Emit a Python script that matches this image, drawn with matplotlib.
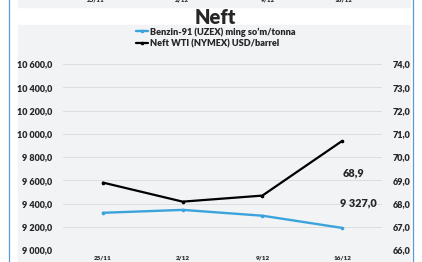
import matplotlib.pyplot as plt
from matplotlib.patches import Rectangle
from matplotlib.lines import Line2D

plt.rcParams['font.family'] = ['Lato', 'DejaVu Sans']
plt.rcParams['font.weight'] = 'heavy'

# data
dates = ['25/11', '2/12', '9/12', '16/12']
benzin = [9320, 9345, 9295, 9190]      # ming so'm/tonna, left axis
wti = [68.9, 68.08, 68.34, 70.69]      # USD/barrel, right axis
benzin_label = '9 327,0'
wti_label = '68,9'
left_ticks = list(range(9000, 10601, 200))
right_ticks = list(range(66, 75))

W, H = 422, 262
fig = plt.figure(figsize=(W / 100, H / 100), dpi=100)
fig.patch.set_facecolor('white')

bg = '#f2f3f5'
txt = '#262626'

# strip of the chart above, and the panel background
fig.patches.append(Rectangle((18 / W, 1 - 7 / H), 392 / W, 7 / H,
                             transform=fig.transFigure, color=bg, zorder=-5))
fig.patches.append(Rectangle((18 / W, 0), 392 / W, (H - 25) / H,
                             transform=fig.transFigure, color=bg, zorder=-5))
for xb in (8.5, 412.5):
    fig.add_artist(Line2D([xb / W, xb / W], [0, 1], color='#5b9bd5', lw=0.9,
                          transform=fig.transFigure))
for xp, d in zip([96, 182, 268, 344], dates):
    fig.text(xp / W, 1 - 3 / H, d, ha='center', va='bottom', fontsize=4.5,
             color=txt)

ax = fig.add_axes([63 / W, (H - 250) / H, 319 / W, 186 / H])
ax.set_facecolor('none')
ax2 = ax.twinx()

x = list(range(len(dates)))
lb, = ax.plot(x, benzin, color='#3ba3dc', lw=1.7, marker='o', ms=1.6,
              solid_capstyle='round', solid_joinstyle='round', zorder=3)
lw_, = ax2.plot(x, wti, color='black', lw=1.6, marker='o', ms=1.6,
                solid_capstyle='round', solid_joinstyle='round', zorder=3)

ax.set_ylim(9000, 10600)
ax.set_yticks(left_ticks)
ax.set_yticklabels([f'{v:,.1f}'.replace(',', ' ').replace('.', ',')
                    for v in left_ticks])
ax2.set_ylim(66, 74)
ax2.set_yticks(right_ticks)
ax2.set_yticklabels([f'{v:.1f}'.replace('.', ',') for v in right_ticks])
ax.set_xlim(-0.5, 3.5)
ax.set_xticks(x)
ax.set_xticklabels(dates)

ax.grid(axis='y', color='#d9d9d9', lw=0.6)
for a in (ax, ax2):
    for s in a.spines.values():
        s.set_visible(False)
ax.tick_params(axis='y', length=0, pad=8, labelsize=6.5, labelcolor=txt)
ax2.tick_params(axis='y', length=0, pad=8, labelsize=6.5, labelcolor=txt)
ax.tick_params(axis='x', length=0, pad=4, labelsize=4.5, labelcolor=txt)

ax2.text(3.14, 69.31, wti_label, ha='center', va='center', fontsize=7.8,
         color=txt)
ax.text(3.2, 9404, benzin_label, ha='center', va='center', fontsize=7.8,
        color=txt)

fig.text(215 / W, 1 - 18 / H, 'Neft', ha='center', va='center', fontsize=14.5,
         color=txt)
fig.legend([lb, lw_], ["Benzin-91 (UZEX) ming so\u2019m/tonna",
                       'Neft WTI (NYMEX) USD/barrel'],
           loc='upper left', bbox_to_anchor=(136 / W, 1 - 27 / H),
           frameon=False, fontsize=6.6, handlelength=1.3, handletextpad=0.2,
           labelspacing=0.3, borderpad=0, borderaxespad=0, labelcolor=txt)

fig.savefig('out.png', dpi=100)
